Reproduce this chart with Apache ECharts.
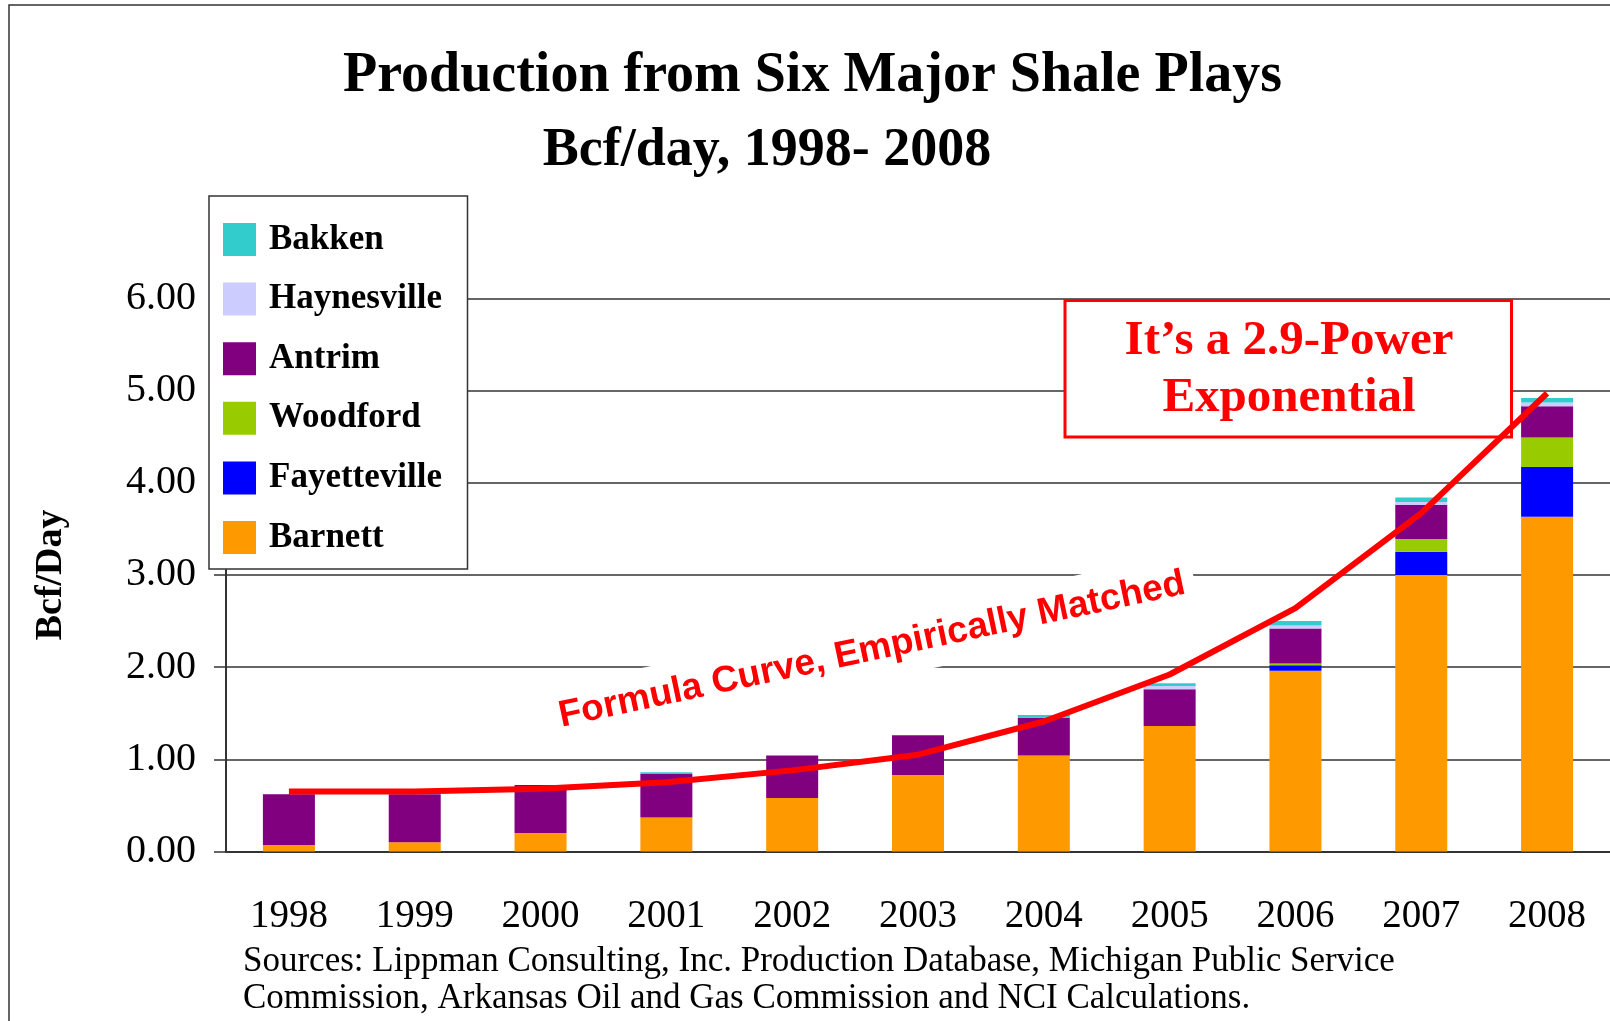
<!DOCTYPE html>
<html>
<head>
<meta charset="utf-8">
<title>Production from Six Major Shale Plays</title>
<script src="https://cdn.jsdelivr.net/npm/echarts@6/dist/echarts.min.js"></script>
<style>
  html, body { margin: 0; padding: 0; background: #fff; }
  #chart { width: 1610px; height: 1021px; }
</style>
</head>
<body>
<div id="chart"></div>
<script>
// values, Bcf/day
var years = ['1998', '1999', '2000', '2001', '2002', '2003', '2004', '2005', '2006', '2007', '2008']
var barnett = [0.07, 0.10, 0.20, 0.37, 0.58, 0.83, 1.04, 1.36, 1.96, 3.00, 3.63]
var fayetteville = [0, 0, 0, 0, 0, 0, 0, 0, 0.06, 0.25, 0.54]
var woodford = [0, 0, 0, 0, 0, 0, 0, 0, 0.02, 0.14, 0.32]
var antrim = [0.55, 0.52, 0.52, 0.47, 0.46, 0.43, 0.41, 0.40, 0.38, 0.37, 0.34]
var haynesville = [0, 0, 0, 0, 0, 0, 0, 0.035, 0.03, 0.03, 0.04]
var bakken = [0, 0, 0, 0.02, 0, 0, 0.03, 0.03, 0.05, 0.05, 0.05]
// fitted formula curve
var curve = [0.65, 0.65, 0.68, 0.75, 0.88, 1.05, 1.41, 1.92, 2.64, 3.67, 4.97]

var serif = "'Liberation Serif', 'Times New Roman', serif"
var sans = "'Liberation Sans', Arial, sans-serif"

// stacking order, bottom first
var plays = [
  { name: 'Barnett', color: '#FF9900', data: barnett },
  { name: 'Fayetteville', color: '#0000FF', data: fayetteville },
  { name: 'Woodford', color: '#99CC00', data: woodford },
  { name: 'Antrim', color: '#800080', data: antrim },
  { name: 'Haynesville', color: '#CCCCFF', data: haynesville },
  { name: 'Bakken', color: '#33CCCC', data: bakken }
]

var series = plays.map(function (p) {
  return {
    name: p.name,
    type: 'bar',
    stack: 'total',
    barWidth: 52,
    itemStyle: { color: p.color },
    data: p.data
  }
})
series.push({
  name: 'Formula Curve',
  type: 'line',
  data: curve,
  symbol: 'none',
  z: 5,
  lineStyle: { color: '#FF0000', width: 6 }
})

var chart = echarts.init(document.getElementById('chart'))
chart.setOption({
  animation: false,
  backgroundColor: '#fff',
  grid: { left: 226, top: 298.3, width: 1390, bottom: 169.5 },
  legend: {
    orient: 'vertical',
    left: 223,
    top: 222,
    padding: 0,
    itemWidth: 33,
    itemHeight: 33,
    itemGap: 24.6,
    icon: 'rect',
    z: 4,
    data: plays.map(function (p) { return p.name }).reverse(),
    textStyle: {
      fontFamily: serif,
      fontWeight: 'bold',
      fontSize: 35,
      color: '#000',
      padding: [0, 0, 0, 8]
    }
  },
  xAxis: {
    type: 'category',
    data: years,
    axisLine: { lineStyle: { color: '#333', width: 2 } },
    axisTick: { length: 13, lineStyle: { color: '#444', width: 1.5 } },
    axisLabel: { fontFamily: serif, fontSize: 39, color: '#000', margin: 46 }
  },
  yAxis: {
    type: 'value',
    min: 0,
    max: 6,
    interval: 1,
    name: 'Bcf/Day',
    nameLocation: 'middle',
    nameRotate: 90,
    nameGap: 156,
    nameTextStyle: { fontFamily: serif, fontWeight: 'bold', fontSize: 38, color: '#000' },
    axisLine: { show: true, lineStyle: { color: '#333', width: 2 } },
    axisTick: { show: true, length: 12, lineStyle: { color: '#333', width: 1.5 } },
    axisLabel: {
      fontFamily: serif,
      fontSize: 40,
      color: '#000',
      margin: 30,
      formatter: function (v) { return v.toFixed(2) }
    },
    splitLine: { lineStyle: { color: '#333', width: 1.5 } }
  },
  graphic: [
    // outer frame
    {
      type: 'rect', z: 0,
      shape: { x: 9, y: 5, width: 1700, height: 1100 },
      style: { fill: 'none', stroke: '#333', lineWidth: 1.5 }
    },
    // legend box
    {
      type: 'rect', z: 3,
      shape: { x: 209, y: 196, width: 258.5, height: 373 },
      style: { fill: '#fff', stroke: '#333', lineWidth: 1.5 }
    },
    {
      type: 'text', x: 812.5, y: 77, z: 3,
      style: {
        text: 'Production from Six Major Shale Plays',
        font: 'bold 56px ' + serif, fill: '#000', align: 'center', verticalAlign: 'middle'
      }
    },
    {
      type: 'text', x: 767, y: 151, z: 3,
      style: {
        text: 'Bcf/day, 1998- 2008',
        font: 'bold 54px ' + serif, fill: '#000', align: 'center', verticalAlign: 'middle'
      }
    },
    // annotation box
    {
      type: 'rect', z: 1,
      shape: { x: 1065, y: 300.5, width: 446.5, height: 136.5 },
      style: { fill: '#fff', stroke: '#FF0000', lineWidth: 3 }
    },
    {
      type: 'text', x: 1289, y: 341, z: 1,
      style: {
        text: 'It\u2019s a 2.9-Power',
        font: 'bold 49px ' + serif, fill: '#FF0000', align: 'center', verticalAlign: 'middle'
      }
    },
    {
      type: 'text', x: 1289, y: 398, z: 1,
      style: {
        text: 'Exponential',
        font: 'bold 49px ' + serif, fill: '#FF0000', align: 'center', verticalAlign: 'middle'
      }
    },
    {
      type: 'text', x: 872, y: 650, z: 1, rotation: 0.21,
      style: {
        text: 'Formula Curve, Empirically Matched',
        font: 'bold 37px ' + sans, fill: '#FF0000', align: 'center', verticalAlign: 'middle',
        backgroundColor: '#fff', padding: [12, 10]
      }
    },
    {
      type: 'text', x: 243, y: 962, z: 3,
      style: {
        text: 'Sources: Lippman Consulting, Inc. Production Database, Michigan Public Service',
        font: '35px ' + serif, fill: '#000', align: 'left', verticalAlign: 'middle'
      }
    },
    {
      type: 'text', x: 243, y: 999, z: 3,
      style: {
        text: 'Commission, Arkansas Oil and Gas Commission and NCI Calculations.',
        font: '35px ' + serif, fill: '#000', align: 'left', verticalAlign: 'middle'
      }
    }
  ],
  series: series
})
</script>
</body>
</html>
